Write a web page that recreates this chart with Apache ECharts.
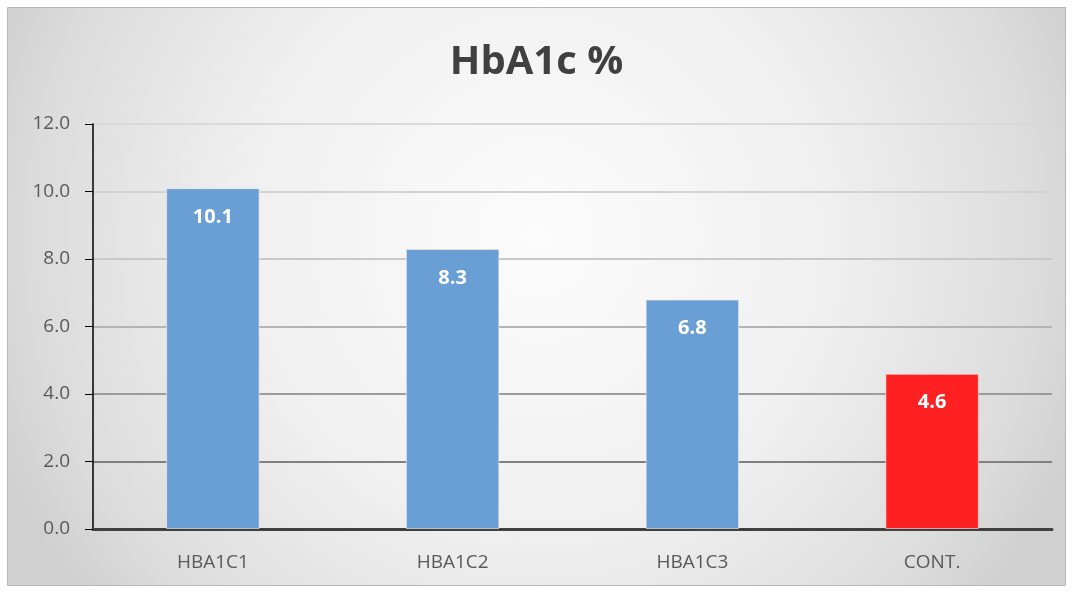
<!DOCTYPE html>
<html>
<head>
<meta charset="utf-8">
<script src="https://cdn.jsdelivr.net/npm/echarts@6/dist/echarts.min.js"></script>
<style>
html,body{margin:0;padding:0;background:#fff;}
#c{width:1073px;height:592px;}
</style>
</head>
<body>
<div id="c"></div>
<script>
const categories = ['HBA1C1', 'HBA1C2', 'HBA1C3', 'CONT.'];
const values = [10.1, 8.3, 6.8, 4.6];
const barColors = ['#6a9fd6', '#6a9fd6', '#6a9fd6', '#ff2121'];
const titleText = 'HbA1c %';

const chart = echarts.init(document.getElementById('c'));
chart.setOption({
  backgroundColor: '#ffffff',
  graphic: [{
    type: 'rect',
    z: -10,
    silent: true,
    shape: {x: 7.5, y: 7.5, width: 1058, height: 578},
    style: {
      fill: new echarts.graphic.RadialGradient(0.5, 0.4, 1.0, [
        {offset: 0, color: '#fcfcfc'},
        {offset: 0.5, color: '#f0f0f0'},
        {offset: 0.85, color: '#dddddd'},
        {offset: 1, color: '#d0d0d0'}
      ]),
      stroke: '#b8b8b8',
      lineWidth: 1
    }
  }],
  title: {
    text: titleText,
    left: 'center',
    top: 38,
    textStyle: {fontFamily: 'Open Sans', fontWeight: 'bold', fontSize: 40, color: '#404040'}
  },
  grid: {left: 93, right: 21, top: 124, bottom: 63},
  xAxis: {
    type: 'category',
    data: categories,
    axisLine: {lineStyle: {color: '#404040', width: 3}},
    axisTick: {show: false},
    axisLabel: {fontFamily: 'Open Sans', fontSize: 19, color: '#595959', margin: 24}
  },
  yAxis: {
    type: 'value',
    min: 0, max: 12, interval: 2,
    axisLine: {show: true, lineStyle: {color: '#000', width: 1.5}},
    axisTick: {show: true, length: 8, lineStyle: {color: '#000'}},
    axisLabel: {fontFamily: 'Open Sans', fontSize: 19, color: '#595959', margin: 23,
      formatter: v => v.toFixed(1)},
    splitLine: {show: true, lineStyle: {width: 2,
      color: ['#404040', '#808080', '#9c9c9c', '#b4b4b4', '#c8c8c8', '#d2d2d2', '#d9d9d9']}}
  },
  series: [{
    type: 'bar',
    data: values.map((v, i) => ({value: v, itemStyle: {color: barColors[i]}})),
    barWidth: '39%',
    itemStyle: {borderColor: 'rgba(255,240,230,0.6)', borderWidth: 1},
    label: {
      show: true, position: 'insideTop', distance: 19,
      color: '#ffffff', fontFamily: 'Open Sans', fontWeight: 'bold', fontSize: 20,
      formatter: p => p.value.toFixed(1)
    }
  }]
});
</script>
</body>
</html>
